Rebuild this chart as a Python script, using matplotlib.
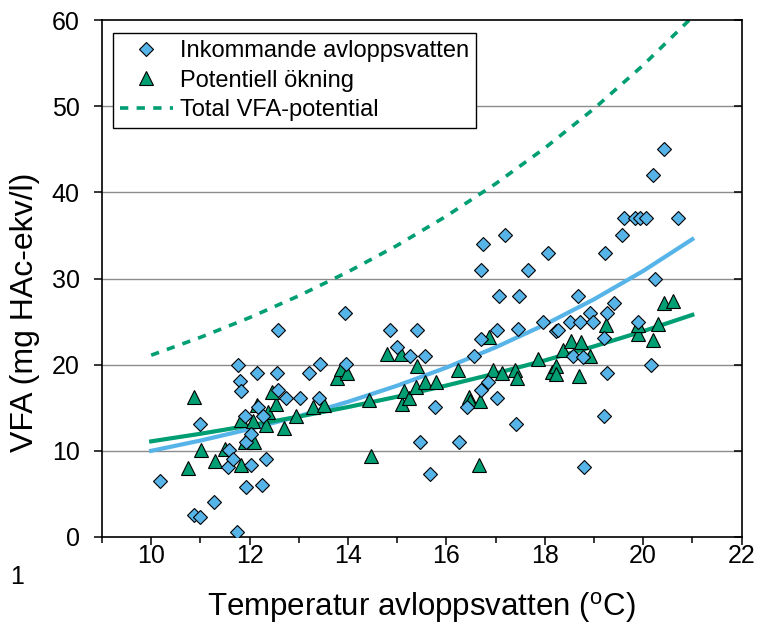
import matplotlib
matplotlib.use("Agg")
import matplotlib.pyplot as plt
from matplotlib.ticker import MultipleLocator

plt.rcParams['font.family'] = ['Liberation Sans', 'DejaVu Sans']

# --- Data ---
inkommande_x = [10.17, 10.87, 11.0, 11.0, 11.28, 11.56, 11.58, 11.66, 11.75, 11.76,
                11.8, 11.83, 11.91, 11.92, 11.92, 12.02, 12.03, 12.16, 12.17, 12.25,
                12.28, 12.34, 12.55, 12.57, 12.57, 12.74, 13.03, 13.2, 13.43, 13.42,
                13.94, 13.97, 14.86, 15.0, 15.26, 15.4, 15.47, 15.57, 15.66, 15.76,
                16.25, 16.43, 16.57, 16.7, 16.7, 16.75, 16.7, 16.84, 17.02, 17.02,
                17.07, 17.2, 17.42, 17.46, 17.47, 17.66, 17.96, 18.07, 18.22, 18.27,
                18.52, 18.57, 18.68, 18.71, 18.77, 18.8, 18.93, 18.99, 19.2, 19.2,
                19.22, 19.26, 19.4, 19.58, 19.62, 19.84, 19.94, 20.05, 19.9, 20.17,
                20.2, 20.24, 20.42, 20.7, 19.26]
inkommande_y = [6.5, 2.5, 2.3, 13.1, 4.1, 8.1, 10.1, 9.05, 0.6, 20.0,
                18.1, 16.9, 14.0, 11.0, 5.8, 8.3, 12.0, 19.07, 15.1, 6.0,
                14.0, 9.05, 19.07, 17.06, 24.0, 16.1, 16.1, 19.07, 20.1, 16.1,
                26.0, 20.1, 24.0, 22.1, 21.0, 24.0, 11.0, 21.0, 7.3, 15.05,
                11.0, 15.05, 21.0, 23.0, 17.06, 34.0, 31.0, 18.0, 16.1, 24.0,
                28.0, 35.0, 13.1, 24.1, 28.0, 31.0, 25.0, 33.0, 23.9, 24.0,
                25.0, 21.0, 28.0, 25.0, 20.9, 8.16, 26.0, 25.0, 23.06, 14.0,
                33.0, 19.07, 27.1, 35.0, 37.0, 37.0, 37.0, 37.0, 25.0, 20.0,
                42.0, 30.0, 45.0, 37.0, 26.0]

okning_x = [10.74, 10.87, 11.01, 11.3, 11.51, 11.83, 11.91, 12.1, 11.83, 12.06,
            12.34, 12.7, 12.37, 12.53, 12.46, 12.16, 12.95, 13.28, 13.52, 13.78,
            13.86, 13.99, 14.43, 14.47, 14.79, 15.07, 15.1, 15.14, 15.24, 15.38,
            15.41, 15.56, 15.78, 16.23, 16.46, 16.48, 16.68, 16.66, 16.86, 16.94,
            17.14, 17.39, 17.43, 17.86, 18.15, 18.22, 18.22, 18.37, 18.54, 18.74,
            18.69, 18.93, 19.24, 19.9, 19.9, 20.2, 20.3, 20.42, 20.6]
okning_y = [8.0, 16.3, 10.1, 8.8, 10.2, 8.3, 11.0, 11.06, 13.6, 13.5,
            13.0, 12.7, 14.5, 15.4, 16.8, 15.3, 14.0, 15.1, 15.3, 18.4,
            19.5, 19.0, 15.9, 9.4, 21.2, 21.2, 15.4, 16.9, 16.1, 17.4,
            19.8, 18.0, 18.0, 19.4, 16.3, 15.8, 15.8, 8.4, 23.2, 19.4,
            19.0, 19.4, 18.5, 20.6, 19.2, 19.9, 18.9, 21.7, 22.7, 22.6,
            18.7, 21.0, 24.6, 23.6, 24.6, 22.9, 24.7, 27.1, 27.4]

# trend curves read at integer temperatures
trend_x = [10, 11, 12, 13, 14, 15, 16, 17, 18, 19, 20, 21]
trend_inkommande = [10.0, 11.19, 12.52, 14.02, 15.69, 17.56, 19.66, 22.01, 24.64, 27.58, 30.87, 34.56]
trend_okning = [11.10, 11.98, 12.94, 13.97, 15.08, 16.28, 17.58, 18.98, 20.49, 22.12, 23.88, 25.78]
trend_total = [21.10, 23.17, 25.46, 27.99, 30.77, 33.84, 37.24, 40.99, 45.13, 49.70, 54.75, 60.34]

x_ticks = [10, 12, 14, 16, 18, 20, 22]
y_ticks = [0, 10, 20, 30, 40, 50, 60]

BLUE = '#56B4E9'
GREEN = '#009E73'

fig = plt.figure(figsize=(7.61, 6.33), dpi=100)
L, R, T, B = 102 / 761, 741.5 / 761, 1 - 20 / 633, 1 - 537 / 633
ax = fig.add_axes([L, B, R - L, T - B])

ax.set_xlim(9, 22)
ax.set_ylim(0, 60)

for yv in y_ticks[1:-1]:
    ax.axhline(yv, color='#8c8c8c', lw=1.0, zorder=0.5)

ax.plot(trend_x, trend_total, color=GREEN, lw=2.6, linestyle=(0, (2.3, 2.3)),
        dash_capstyle='butt', zorder=2, label='Total VFA-potential')
ax.plot(trend_x, trend_inkommande, color=BLUE, lw=3.0, zorder=2)
ax.plot(trend_x, trend_okning, color=GREEN, lw=3.0, zorder=2)

ax.plot(okning_x, okning_y, linestyle='none', marker='^', ms=9.5, mfc=GREEN,
        mec='black', mew=0.8, zorder=3, label='Potentiell ökning')
ax.plot(inkommande_x, inkommande_y, linestyle='none', marker='D', ms=7.4, mfc=BLUE,
        mec='black', mew=0.8, zorder=4, label='Inkommande avloppsvatten')

ax.set_xticks(x_ticks)
ax.set_yticks(y_ticks)
ax.xaxis.set_minor_locator(MultipleLocator(1))
ax.tick_params(axis='both', which='major', labelsize=18, width=1.1, length=6,
               direction='out', color='black')
ax.tick_params(axis='x', which='major', pad=-1)
ax.tick_params(axis='y', which='major', pad=10)
ax.tick_params(axis='x', which='minor', width=1.1, length=4, direction='out')
ax.tick_params(axis='y', right=True, which='major')
for sp in ax.spines.values():
    sp.set_linewidth(1.2)
    sp.set_color('black')
# right ticks inward
for t in ax.yaxis.get_major_ticks():
    t.tick2line.set_marker(matplotlib.lines.TICKLEFT)
    t.tick2line.set_markersize(6)

ax.set_xlabel(r'Temperatur avloppsvatten ($^{\mathregular{o}}$C)', fontsize=22.5, labelpad=16)
ax.set_ylabel('VFA (mg HAc-ekv/l)', fontsize=23)
ax.yaxis.set_label_coords(-0.097, 0.435)

handles, labels = ax.get_legend_handles_labels()
order = [2, 1, 0]
leg = ax.legend([handles[i] for i in order], [labels[i] for i in order],
                loc='upper left', bbox_to_anchor=(0.0167, 0.975), borderaxespad=0,
                fontsize=17, frameon=True, fancybox=False, framealpha=1,
                edgecolor='black', handlelength=2.25, handletextpad=0.3,
                labelspacing=0.32, borderpad=0.3, numpoints=1)
leg.get_frame().set_linewidth(1.0)

fig.text(10 / 761, 1 - 577 / 633, '1', fontsize=18, ha='left', va='center')

fig.savefig('out.png', dpi=100)
